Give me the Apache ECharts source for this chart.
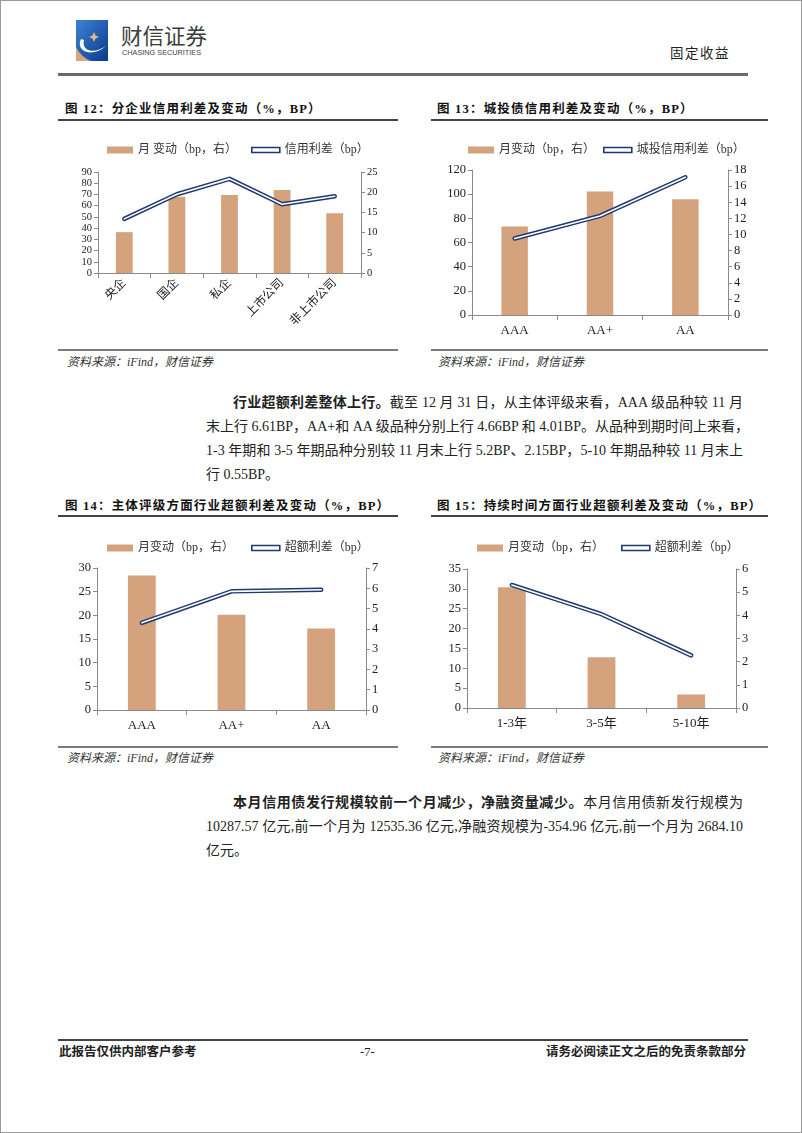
<!DOCTYPE html>
<html><head><meta charset="utf-8">
<script src="https://cdn.jsdelivr.net/npm/echarts@6/dist/echarts.min.js"></script>
<style>
html,body{margin:0;padding:0;background:#fff;}
#page{position:relative;width:802px;height:1133px;border:1px solid #9a9a9a;box-sizing:border-box;background:#fff;overflow:hidden;
 font-family:"Liberation Serif","Noto Sans CJK SC",serif;color:#222;}
.abs{position:absolute;}
.title{position:absolute;font-size:12.5px;font-weight:bold;line-height:16px;letter-spacing:1.2px;color:#111;white-space:nowrap;}
.rule{position:absolute;background:#444;height:2px;}
.srule{position:absolute;background:#7a7a7a;height:2px;}
.src{position:absolute;font-size:12px;font-style:italic;line-height:16px;color:#333;white-space:nowrap;}
.chart{position:absolute;}
.ln{position:absolute;font-size:14px;line-height:24px;height:24px;white-space:nowrap;overflow:visible;}
.j{text-align:justify;text-align-last:justify;}
.foot{position:absolute;font-size:12.5px;font-weight:bold;line-height:16px;top:1043px;white-space:nowrap;}
</style></head>
<body>
<div id="page">
 <!-- header -->
 <svg class="abs" style="left:75px;top:19px" width="32" height="41" viewBox="0 0 32 41">
  <defs><linearGradient id="g" x1="0" y1="0" x2="1" y2="1"><stop offset="0" stop-color="#3d82d4"/><stop offset="1" stop-color="#0a3a8c"/></linearGradient></defs>
  <rect width="32" height="41" fill="url(#g)"/>
  <path d="M0 27 Q5 37 15 41 L0 41 Z" fill="#d7a57b"/>
  <path d="M5 19 C -1 31, 16 39, 31 25 C 19 35, 5 31, 8 20 Z" fill="#ffffff"/>
  <path d="M18 12 l1.5 3.5 l3.5 1.5 l-3.5 1.5 l-1.5 3.5 l-1.5 -3.5 l-3.5 -1.5 l3.5 -1.5 z" fill="#e9b684"/>
 </svg>
 <div class="abs" style="left:120px;top:23px;font-family:'Noto Sans CJK SC';font-size:21.5px;line-height:22px;color:#3c3c3c;">财信证券</div>
 <div class="abs" style="left:121px;top:47px;font-family:'Liberation Sans';font-size:7.3px;line-height:9px;color:#444;">CHASING SECURITIES</div>
 <div class="abs" style="left:669px;top:45px;font-size:13.5px;line-height:16px;letter-spacing:1.5px;color:#222;">固定收益</div>
 <div class="abs" style="left:57px;top:72px;width:690px;height:2.5px;background:#6a6a6a;"></div>

 <!-- chart 12 / 13 -->
 <div class="title" style="left:64px;top:100px;">图 12：分企业信用利差及变动（%，BP）</div>
 <div class="rule" style="left:57px;top:118px;width:340px;"></div>
 <div class="chart" id="c12" style="left:60px;top:122px;width:337px;height:225px;"></div>
 <div class="srule" style="left:57px;top:348px;width:340px;"></div>
 <div class="src" style="left:66px;top:353px;">资料来源：iFind，财信证券</div>

 <div class="title" style="left:436px;top:100px;">图 13：城投债信用利差及变动（%，BP）</div>
 <div class="rule" style="left:430px;top:118px;width:337px;"></div>
 <div class="chart" id="c13" style="left:430px;top:122px;width:340px;height:225px;"></div>
 <div class="srule" style="left:430px;top:348px;width:337px;"></div>
 <div class="src" style="left:437px;top:353px;">资料来源：iFind，财信证券</div>

 <!-- paragraph 1 -->
 <div class="ln j" style="left:232px;top:390px;width:510px;"><b>行业超额利差整体上行。</b>截至 12 月 31 日，从主体评级来看，AAA 级品种较 11 月</div>
 <div class="ln j" style="left:205px;top:414px;width:537px;">末上行 6.61BP，AA+和 AA 级品种分别上行 4.66BP 和 4.01BP。从品种到期时间上来看，</div>
 <div class="ln j" style="left:205px;top:438px;width:537px;">1-3 年期和 3-5 年期品种分别较 11 月末上行 5.2BP、2.15BP，5-10 年期品种较 11 月末上</div>
 <div class="ln" style="left:205px;top:462px;">行 0.55BP。</div>

 <!-- chart 14 / 15 -->
 <div class="title" style="left:64px;top:497px;">图 14：主体评级方面行业超额利差及变动（%，BP）</div>
 <div class="rule" style="left:57px;top:514px;width:340px;"></div>
 <div class="chart" id="c14" style="left:60px;top:520px;width:337px;height:225px;"></div>
 <div class="srule" style="left:57px;top:745px;width:340px;"></div>
 <div class="src" style="left:66px;top:749px;">资料来源：iFind，财信证券</div>

 <div class="title" style="left:436px;top:497px;">图 15：持续时间方面行业超额利差及变动（%，BP）</div>
 <div class="rule" style="left:430px;top:514px;width:337px;"></div>
 <div class="chart" id="c15" style="left:430px;top:520px;width:340px;height:225px;"></div>
 <div class="srule" style="left:430px;top:745px;width:337px;"></div>
 <div class="src" style="left:437px;top:749px;">资料来源：iFind，财信证券</div>

 <!-- paragraph 2 -->
 <div class="ln j" style="left:232px;top:790px;width:510px;"><b>本月信用债发行规模较前一个月减少，净融资量减少。</b>本月信用债新发行规模为</div>
 <div class="ln j" style="left:205px;top:814px;width:537px;">10287.57 亿元,前一个月为 12535.36 亿元,净融资规模为-354.96 亿元,前一个月为 2684.10</div>
 <div class="ln" style="left:205px;top:838px;">亿元。</div>

 <!-- footer -->
 <div class="abs" style="left:57px;top:1038px;width:690px;height:2px;background:#444;"></div>
 <div class="foot" style="left:58px;">此报告仅供内部客户参考</div>
 <div class="foot" style="left:359px;font-weight:normal;">-7-</div>
 <div class="foot" style="right:55px;">请务必阅读正文之后的免责条款部分</div>
</div>

<script>
// ---- data ----
const cat12 = ['央企','国企','私企','上市公司','非上市公司'];
const bar12 = [36.4, 67.9, 69.4, 73.9, 53.3];
const line12 = [13.4, 19.5, 23.3, 17.0, 19.0];

const cat13 = ['AAA','AA+','AA'];
const bar13 = [73.3, 102.3, 95.7];
const line13 = [9.5, 12.3, 17.1];

const cat14 = ['AAA','AA+','AA'];
const bar14 = [28.4, 20.1, 17.2];
const line14 = [4.3, 5.85, 5.93];

const cat15 = ['1-3年','3-5年','5-10年'];
const bar15 = [30.4, 12.8, 3.4];
const line15 = [5.31, 4.05, 2.27];

const FONT = '"Liberation Serif","Noto Sans CJK SC",serif';
const BAR_COLOR = '#D4A27C';
const LINE_COLOR = '#1F3A6E';
const AXIS_COLOR = '#8a8a8a';

function makeChart(id, cfg) {
  const chart = echarts.init(document.getElementById(id), null, {renderer: 'canvas'});
  const yAxisBase = (pos, max, interval) => ({
    type: 'value', position: pos, min: 0, max: max, interval: interval,
    axisLine: {show: true, lineStyle: {color: AXIS_COLOR, width: 1}},
    axisTick: {show: true, length: 4, lineStyle: {color: AXIS_COLOR}},
    splitLine: {show: false},
    axisLabel: {color: '#222', fontSize: cfg.yFont || 12.5, lineHeight: cfg.yLine || 14, fontFamily: FONT, margin: 6,
                showMinLabel: true, showMaxLabel: true, hideOverlap: false}
  });
  chart.setOption({
    animation: false,
    legend: [
      {data: [{name: cfg.barName, icon: 'rect'}], left: cfg.legendLeft[0], top: 16,
       itemWidth: 26, itemHeight: 7, textStyle: {fontSize: 12, color: '#333', fontFamily: FONT}},
      {data: [{name: cfg.lineName, icon: 'rect', itemStyle: {color: '#fff', borderColor: LINE_COLOR, borderWidth: 1.6}}],
       left: cfg.legendLeft[1], top: 16, itemWidth: 28, itemHeight: 5,
       textStyle: {fontSize: 12, color: '#333', fontFamily: FONT}}
    ],
    grid: cfg.grid,
    xAxis: {
      type: 'category', data: cfg.cats,
      axisLine: {lineStyle: {color: AXIS_COLOR}},
      axisTick: {show: true, length: 5, lineStyle: {color: AXIS_COLOR}},
      axisLabel: {color: '#222', fontSize: cfg.rotate ? 12 : 13, fontFamily: FONT, rotate: cfg.rotate || 0,
                  margin: cfg.rotate ? 8 : 9, interval: 0}
    },
    yAxis: [yAxisBase('left', cfg.left[0], cfg.left[1]), yAxisBase('right', cfg.right[0], cfg.right[1])],
    series: [
      {type: 'bar', name: cfg.barName, data: cfg.bar, barWidth: cfg.barWidth, itemStyle: {color: BAR_COLOR}},
      {type: 'line', name: cfg.lineName, yAxisIndex: 1, data: cfg.line, symbol: 'none',
       lineStyle: {width: 4.5, color: LINE_COLOR, cap: 'round', join: 'round'}, z: 3},
      {type: 'line', name: '_inner', yAxisIndex: 1, data: cfg.line, symbol: 'none', silent: true,
       lineStyle: {width: 1.6, color: '#ffffff', cap: 'round', join: 'round'}, z: 4}
    ]
  });
}

makeChart('c12', {cats: cat12, bar: bar12, line: line12, barName: '月 变动（bp，右）', lineName: '信用利差（bp）',
  left: [90, 10], right: [25, 5], grid: {left: 37, right: 37, top: 49, bottom: 75}, rotate: 45, yFont: 10.5, yLine: 10,
  legendLeft: [41, 185], barWidth: '32%'});
makeChart('c13', {cats: cat13, bar: bar13, line: line13, barName: '月变动（bp，右）', lineName: '城投信用利差（bp）',
  left: [120, 20], right: [18, 2], grid: {left: 41, right: 43, top: 47, bottom: 33}, legendLeft: [32, 167], barWidth: '31%'});
makeChart('c14', {cats: cat14, bar: bar14, line: line14, barName: '月变动（bp，右）', lineName: '超额利差（bp）',
  left: [30, 5], right: [7, 1], grid: {left: 36, right: 32, top: 47, bottom: 36}, legendLeft: [41, 185], barWidth: '31%'});
makeChart('c15', {cats: cat15, bar: bar15, line: line15, barName: '月变动（bp，右）', lineName: '超额利差（bp）',
  left: [35, 5], right: [6, 1], grid: {left: 36, right: 35, top: 48, bottom: 38}, legendLeft: [41, 185], barWidth: '31%'});
</script>
</body></html>
